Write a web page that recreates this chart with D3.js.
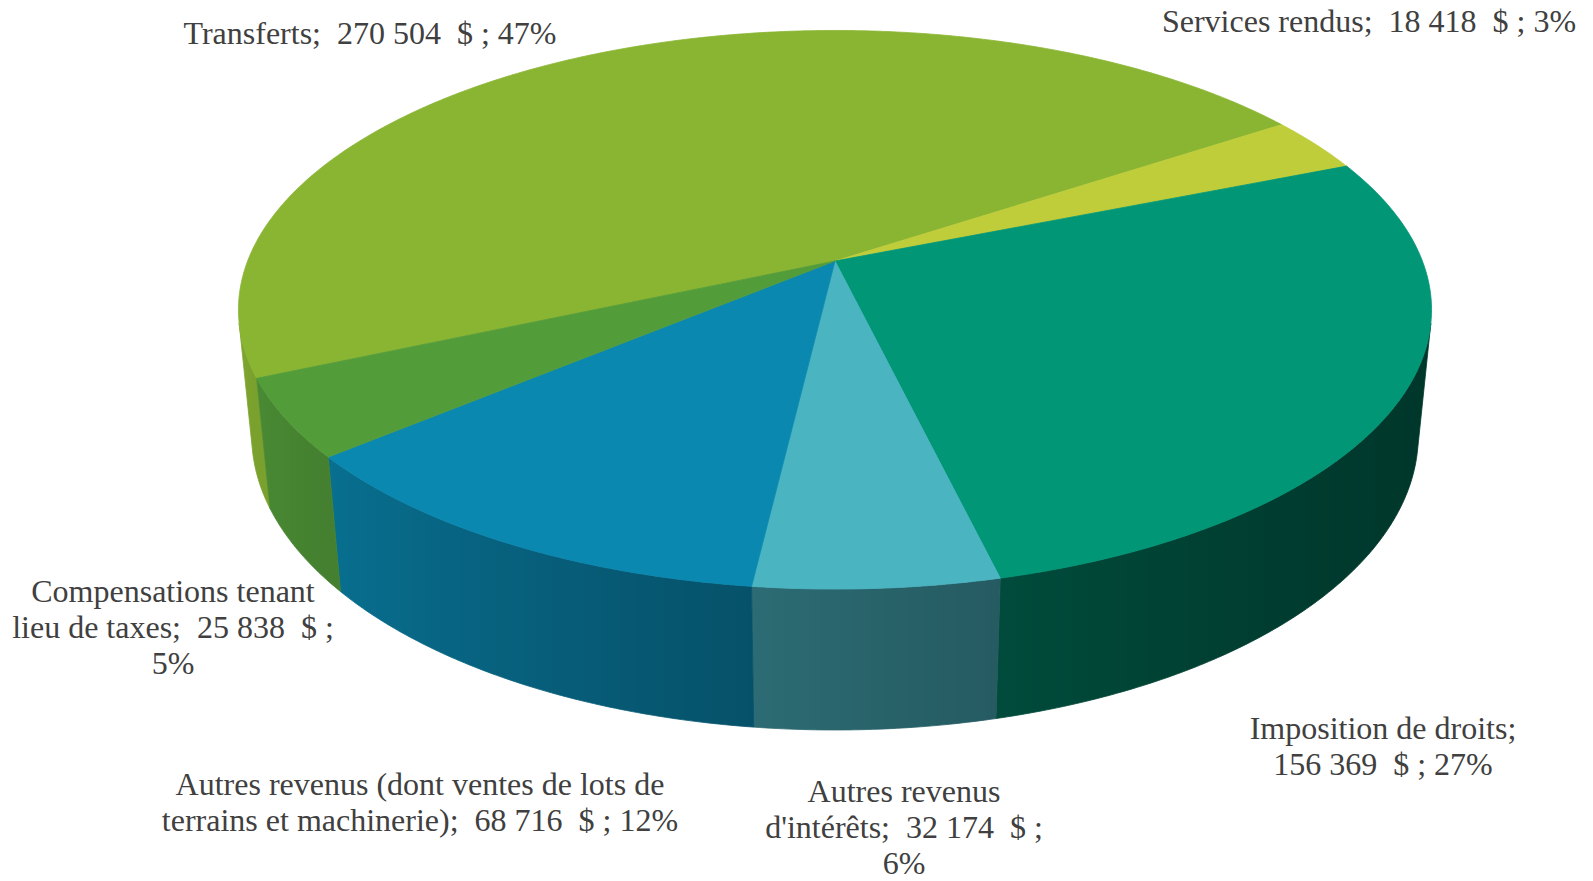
<!DOCTYPE html>
<html><head><meta charset="utf-8">
<script src="https://cdn.jsdelivr.net/npm/d3@7"></script>
<style>
html,body{margin:0;padding:0;background:#fff;}
svg{display:block;}
text{font-family:"Liberation Serif","Times New Roman",serif;font-size:32px;fill:#404040;white-space:pre;}
</style>
</head><body>
<svg id="chart" width="1593" height="881"></svg>
<script>
// ---- data ----
const categories = [
  "Transferts",
  "Services rendus",
  "Imposition de droits",
  "Autres revenus d'intérêts",
  "Autres revenus (dont ventes de lots de terrains et machinerie)",
  "Compensations tenant lieu de taxes"
];
const values = [270504, 18418, 156369, 32174, 68716, 25838];
const percentLabels = ["47%", "3%", "27%", "6%", "12%", "5%"];
const colors = ["#8AB533", "#BFCD3B", "#009676", "#4AB4C1", "#0A88B0", "#539C3A"];

// ---- layout ----
const W = 1593, H = 881;
const cx = 835, cy = 261;
const alpha = Math.asin(0.461);
const D = 5.082, f = 2985, h = 0.243;
const startDeg = -113.75;
const labelPos = [
  {x: 370, y: 44, max: 600},
  {x: 1369, y: 32, max: 600},
  {x: 1383, y: 739, max: 280},
  {x: 904, y: 802, max: 280},
  {x: 420, y: 795, max: 535},
  {x: 173, y: 602, max: 326}
];
const lineH = 36;

const svg = d3.select("#chart");
const defs = svg.append("defs");

function project(theta, bottom) {
  const s = Math.sin(theta), c = Math.cos(theta);
  const X = s;
  const Y = -c * Math.sin(alpha) + bottom * h * Math.cos(alpha);
  const Z = D + c * Math.cos(alpha) + bottom * h * Math.sin(alpha);
  return [cx + f * X / Z, cy + f * Y / Z];
}

const rad = d => d * Math.PI / 180;
const pie = d3.pie().sort(null).value(d => d)
  .startAngle(rad(startDeg)).endAngle(rad(startDeg + 360));
const arcs = pie(values);

const tangent = Math.acos(1 / (D * Math.cos(alpha)));
const vis0 = Math.PI - tangent, vis1 = Math.PI + tangent;

const line = d3.line().curve(d3.curveLinearClosed);

function samples(a0, a1) {
  const n = Math.max(2, Math.ceil(Math.abs(a1 - a0) / rad(0.5)));
  return d3.range(n + 1).map(i => a0 + (a1 - a0) * i / n);
}

function shade(theta) {
  const deg = theta * 180 / Math.PI;
  return 0.668 + 0.3 * Math.cos(rad(deg - 290));
}

// ---- sides ----
const sideG = svg.append("g");
arcs.forEach((a, i) => {
  [-2 * Math.PI, 0, 2 * Math.PI].forEach(off => {
    const b0 = Math.max(a.startAngle, vis0 + off);
    const b1 = Math.min(a.endAngle, vis1 + off);
    if (b1 - b0 <= 1e-6) return;
    const ts = samples(b0, b1);
    const top = ts.map(t => project(t, 0));
    const bot = ts.map(t => project(t, 1)).reverse();
    const xs = top.map(p => p[0]);
    const xmin = d3.min(xs), xmax = d3.max(xs);
    const id = "g" + i + "_" + (off > 0 ? "p" : off < 0 ? "m" : "z");
    const base = d3.rgb(colors[i]);
    const stops = ts.map((t, j) => {
      const k = shade(t);
      return {o: (xs[j] - xmin) / (xmax - xmin),
              c: d3.rgb(base.r * k, base.g * k, base.b * k).formatHex()};
    }).sort((p, q) => p.o - q.o);
    const grad = defs.append("linearGradient").attr("id", id)
      .attr("gradientUnits", "userSpaceOnUse")
      .attr("x1", xmin).attr("x2", xmax).attr("y1", 0).attr("y2", 0);
    grad.selectAll("stop").data(stops).join("stop")
      .attr("offset", d => d.o).attr("stop-color", d => d.c);
    sideG.append("path").attr("d", line(top.concat(bot)))
      .attr("fill", `url(#${id})`).attr("stroke", `url(#${id})`).attr("stroke-width", 0.8);
  });
});

// ---- top faces ----
const topG = svg.append("g");
arcs.forEach((a, i) => {
  const pts = [[cx, cy]].concat(samples(a.startAngle, a.endAngle).map(t => project(t, 0)));
  topG.append("path").attr("d", line(pts))
    .attr("fill", colors[i]).attr("stroke", colors[i]).attr("stroke-width", 0.8)
    .attr("stroke-linejoin", "round");
});

// ---- labels ----
const locale = d3.formatLocale({decimal: ",", thousands: " ", grouping: [3], currency: ["", " $"]});
const fmt = locale.format(",d");
const labelG = svg.append("g");
const measure = labelG.append("text").attr("x", -9999).attr("y", -9999);
function width(s) { measure.text(s); return measure.node().getComputedTextLength(); }

categories.forEach((c, i) => {
  const full = `${c};  ${fmt(values[i])}  $ ; ${percentLabels[i]}`;
  const tokens = full.split(" ");
  const lines = [];
  let cur = "";
  tokens.forEach(tok => {
    const cand = cur === "" ? tok : cur + " " + tok;
    if (tok !== "" && cur.trim() !== "" && width(cand.trim()) > labelPos[i].max) {
      lines.push(cur.trim());
      cur = tok;
    } else cur = cand;
  });
  if (cur.trim() !== "") lines.push(cur.trim());
  const t = labelG.append("text").attr("text-anchor", "middle");
  lines.forEach((l, j) => {
    t.append("tspan").attr("x", labelPos[i].x).attr("y", labelPos[i].y + j * lineH).text(l);
  });
});
measure.remove();
</script>
</body></html>
